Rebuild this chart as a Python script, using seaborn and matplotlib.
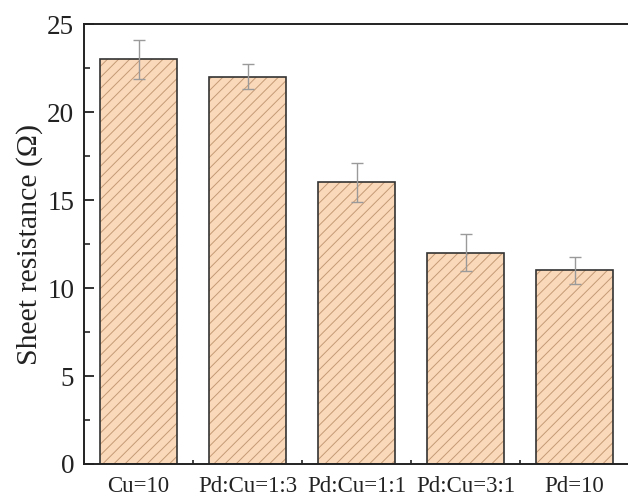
import numpy as np
import pandas as pd
import seaborn as sns
import matplotlib
matplotlib.use("Agg")
import matplotlib.pyplot as plt
from matplotlib.ticker import MultipleLocator, FixedLocator

samples = ["Cu=10", "Pd:Cu=1:3", "Pd:Cu=1:1", "Pd:Cu=3:1", "Pd=10"]
resistance = [23.0, 22.0, 16.0, 12.0, 11.0]
errors = [1.1, 0.7, 1.1, 1.05, 0.75]

df = pd.DataFrame({"sample": samples, "resistance": resistance})

sns.set_style("ticks")
plt.rcParams['font.family'] = ['Liberation Serif', 'DejaVu Serif']
plt.rcParams['hatch.linewidth'] = 0.7

fig = plt.figure(figsize=(6.28, 4.97), dpi=100)
ax = fig.add_axes([0.1338, 0.0664, 0.8678, 0.8853])

# fill + hatch (hatch takes the edge colour)
sns.barplot(data=df, x="sample", y="resistance", ax=ax, color="#fad9ba",
            saturation=1, width=0.7, hatch="///", edgecolor="#c49a76",
            linewidth=0, errorbar=None)
# dark outline on top
sns.barplot(data=df, x="sample", y="resistance", ax=ax, fill=False,
            width=0.7, edgecolor="#333333", linewidth=1.2, errorbar=None)

ax.errorbar(np.arange(len(samples)), resistance, yerr=errors, fmt="none",
            ecolor="#9a9a9a", elinewidth=1.0, capsize=4, capthick=1.0, zorder=5)

ax.set_xlim(-0.5, len(samples) - 0.5)
ax.set_ylim(0, 25)
ax.yaxis.set_major_locator(MultipleLocator(5))
ax.yaxis.set_minor_locator(MultipleLocator(2.5))
ax.xaxis.set_minor_locator(FixedLocator(np.arange(-0.5, len(samples), 1.0)))

for s in ax.spines.values():
    s.set_linewidth(1.4)
    s.set_color("#222222")

ax.tick_params(axis="y", which="major", direction="in", length=7, width=1.3,
               labelsize=19.5, pad=7, colors="#222222")
ax.tick_params(axis="y", which="minor", direction="in", length=4, width=1.2)
ax.tick_params(axis="x", which="major", direction="in", length=6, width=1.3,
               labelsize=16.5, pad=9, colors="#222222")
ax.tick_params(axis="x", which="minor", direction="in", length=3, width=1.2)

ax.set_xlabel("")
ax.set_ylabel("Sheet resistance (\u03a9)", fontsize=21.5, color="#222222", labelpad=3)

fig.savefig("out.png", dpi=100)
